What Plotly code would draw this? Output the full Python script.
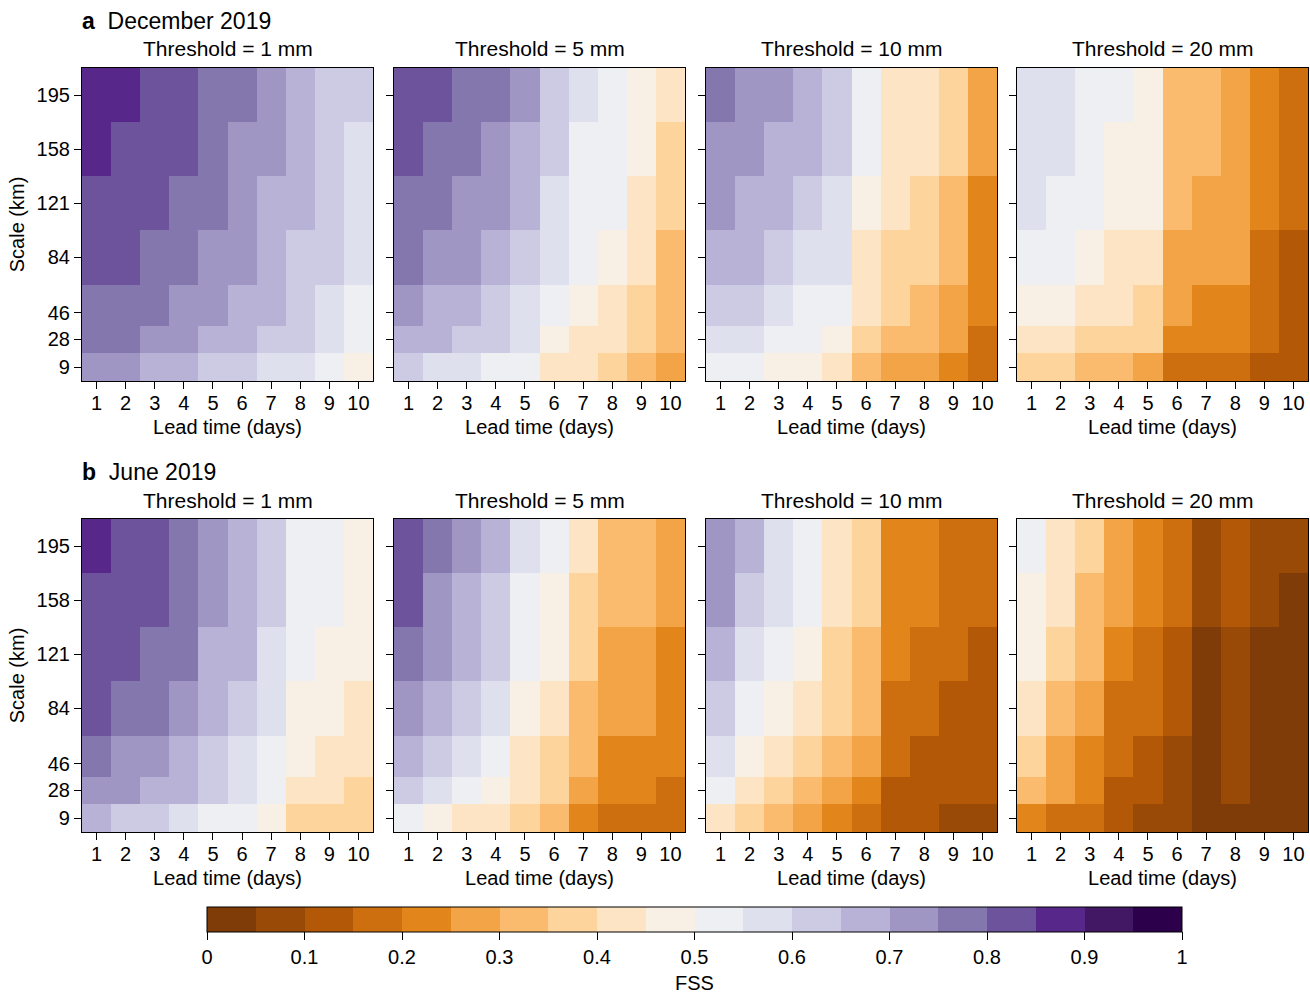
import plotly.graph_objects as go

# ---------------- data ----------------
lead_days = [1, 2, 3, 4, 5, 6, 7, 8, 9, 10]
scales_km = [9, 28, 46, 84, 121, 158, 195]
thresholds = ["1 mm", "5 mm", "10 mm", "20 mm"]

# FSS values, rows listed from largest scale (195 km) down to 9 km
dec_1mm = [
    [0.87, 0.87, 0.83, 0.83, 0.78, 0.78, 0.72, 0.68, 0.62, 0.62],
    [0.87, 0.83, 0.83, 0.83, 0.78, 0.72, 0.72, 0.68, 0.62, 0.58],
    [0.83, 0.83, 0.83, 0.78, 0.78, 0.72, 0.68, 0.68, 0.62, 0.58],
    [0.83, 0.83, 0.78, 0.78, 0.72, 0.72, 0.68, 0.62, 0.62, 0.58],
    [0.78, 0.78, 0.78, 0.72, 0.72, 0.68, 0.68, 0.62, 0.58, 0.52],
    [0.78, 0.78, 0.72, 0.72, 0.68, 0.68, 0.62, 0.62, 0.58, 0.52],
    [0.72, 0.72, 0.68, 0.68, 0.62, 0.62, 0.58, 0.58, 0.52, 0.48],
]
dec_5mm = [
    [0.83, 0.83, 0.78, 0.78, 0.72, 0.62, 0.58, 0.52, 0.48, 0.42],
    [0.83, 0.78, 0.78, 0.72, 0.68, 0.62, 0.52, 0.52, 0.48, 0.38],
    [0.78, 0.78, 0.72, 0.72, 0.68, 0.58, 0.52, 0.52, 0.42, 0.38],
    [0.78, 0.72, 0.72, 0.68, 0.62, 0.58, 0.52, 0.48, 0.42, 0.32],
    [0.72, 0.68, 0.68, 0.62, 0.58, 0.52, 0.48, 0.42, 0.38, 0.32],
    [0.68, 0.68, 0.62, 0.62, 0.58, 0.48, 0.42, 0.42, 0.38, 0.32],
    [0.62, 0.58, 0.58, 0.52, 0.52, 0.42, 0.42, 0.38, 0.32, 0.28],
]
dec_10mm = [
    [0.78, 0.72, 0.72, 0.68, 0.62, 0.52, 0.42, 0.42, 0.38, 0.28],
    [0.72, 0.72, 0.68, 0.68, 0.62, 0.52, 0.42, 0.42, 0.38, 0.28],
    [0.72, 0.68, 0.68, 0.62, 0.58, 0.48, 0.42, 0.38, 0.32, 0.22],
    [0.68, 0.68, 0.62, 0.58, 0.58, 0.42, 0.38, 0.38, 0.32, 0.22],
    [0.62, 0.62, 0.58, 0.52, 0.52, 0.42, 0.38, 0.32, 0.28, 0.22],
    [0.58, 0.58, 0.52, 0.52, 0.48, 0.38, 0.32, 0.32, 0.28, 0.18],
    [0.52, 0.52, 0.48, 0.48, 0.42, 0.32, 0.28, 0.28, 0.22, 0.18],
]
dec_20mm = [
    [0.58, 0.58, 0.52, 0.52, 0.48, 0.32, 0.32, 0.28, 0.22, 0.18],
    [0.58, 0.58, 0.52, 0.48, 0.48, 0.32, 0.32, 0.28, 0.22, 0.18],
    [0.58, 0.52, 0.52, 0.48, 0.48, 0.32, 0.28, 0.28, 0.22, 0.18],
    [0.52, 0.52, 0.48, 0.42, 0.42, 0.28, 0.28, 0.28, 0.18, 0.12],
    [0.48, 0.48, 0.42, 0.42, 0.38, 0.28, 0.22, 0.22, 0.18, 0.12],
    [0.42, 0.42, 0.38, 0.38, 0.38, 0.22, 0.22, 0.22, 0.18, 0.12],
    [0.38, 0.38, 0.32, 0.32, 0.28, 0.18, 0.18, 0.18, 0.12, 0.12],
]
jun_1mm = [
    [0.87, 0.83, 0.83, 0.78, 0.72, 0.68, 0.62, 0.52, 0.52, 0.48],
    [0.83, 0.83, 0.83, 0.78, 0.72, 0.68, 0.62, 0.52, 0.52, 0.48],
    [0.83, 0.83, 0.78, 0.78, 0.68, 0.68, 0.58, 0.52, 0.48, 0.48],
    [0.83, 0.78, 0.78, 0.72, 0.68, 0.62, 0.58, 0.48, 0.48, 0.42],
    [0.78, 0.72, 0.72, 0.68, 0.62, 0.58, 0.52, 0.48, 0.42, 0.42],
    [0.72, 0.72, 0.68, 0.68, 0.62, 0.58, 0.52, 0.42, 0.42, 0.38],
    [0.68, 0.62, 0.62, 0.58, 0.52, 0.52, 0.48, 0.38, 0.38, 0.38],
]
jun_5mm = [
    [0.83, 0.78, 0.72, 0.68, 0.58, 0.52, 0.42, 0.32, 0.32, 0.28],
    [0.83, 0.72, 0.68, 0.62, 0.52, 0.48, 0.38, 0.32, 0.32, 0.28],
    [0.78, 0.72, 0.68, 0.62, 0.52, 0.48, 0.38, 0.28, 0.28, 0.22],
    [0.72, 0.68, 0.62, 0.58, 0.48, 0.42, 0.32, 0.28, 0.28, 0.22],
    [0.68, 0.62, 0.58, 0.52, 0.42, 0.38, 0.32, 0.22, 0.22, 0.22],
    [0.62, 0.58, 0.52, 0.48, 0.42, 0.38, 0.28, 0.22, 0.22, 0.18],
    [0.52, 0.48, 0.42, 0.42, 0.38, 0.32, 0.22, 0.18, 0.18, 0.18],
]
jun_10mm = [
    [0.72, 0.68, 0.58, 0.52, 0.42, 0.38, 0.22, 0.22, 0.18, 0.18],
    [0.72, 0.62, 0.58, 0.52, 0.42, 0.38, 0.22, 0.22, 0.18, 0.18],
    [0.68, 0.58, 0.52, 0.48, 0.38, 0.32, 0.22, 0.18, 0.18, 0.12],
    [0.62, 0.52, 0.48, 0.42, 0.38, 0.32, 0.18, 0.18, 0.12, 0.12],
    [0.58, 0.48, 0.42, 0.38, 0.32, 0.28, 0.18, 0.12, 0.12, 0.12],
    [0.52, 0.42, 0.38, 0.32, 0.28, 0.22, 0.12, 0.12, 0.12, 0.12],
    [0.42, 0.38, 0.32, 0.28, 0.22, 0.18, 0.12, 0.12, 0.08, 0.08],
]
jun_20mm = [
    [0.52, 0.42, 0.38, 0.28, 0.22, 0.18, 0.08, 0.12, 0.08, 0.08],
    [0.48, 0.42, 0.32, 0.28, 0.22, 0.18, 0.08, 0.12, 0.08, 0.02],
    [0.48, 0.38, 0.32, 0.22, 0.18, 0.12, 0.02, 0.08, 0.02, 0.02],
    [0.42, 0.32, 0.28, 0.18, 0.18, 0.12, 0.02, 0.08, 0.02, 0.02],
    [0.38, 0.28, 0.22, 0.18, 0.12, 0.08, 0.02, 0.08, 0.02, 0.02],
    [0.32, 0.28, 0.22, 0.12, 0.12, 0.08, 0.02, 0.08, 0.02, 0.02],
    [0.22, 0.18, 0.18, 0.12, 0.08, 0.08, 0.02, 0.02, 0.02, 0.02],
]

panels = [dec_1mm, dec_5mm, dec_10mm, dec_20mm,
          jun_1mm, jun_5mm, jun_10mm, jun_20mm]
row_titles = ["December 2019", "June 2019"]
row_letters = ["a", "b"]

# 20-step PuOr-like discrete palette (0 -> 1)
bin_colors = [
    "#7f3b08", "#9a4a07", "#b35806", "#cd6f0e", "#e2861b",
    "#f2a447", "#fbbb6e", "#fdd49b", "#fde4c5", "#f8efe5",
    "#eeeff3", "#dfe0ee", "#cdcae3", "#b8b2d6", "#9f96c4",
    "#8477ae", "#6d539c", "#57288a", "#421865", "#2d004b",
]

# ---------------- layout helpers ----------------
W, H = 1310, 996
FONT = "Liberation Sans, Arial, Helvetica, sans-serif"
col_px = [(82, 373), (394, 685), (706, 997), (1017, 1308)]
row_px = [(68, 381), (519, 832)]


def fx(p):
    return p / W


def fy(p):
    return 1 - p / H


n = len(bin_colors)
colorscale = []
for k, c in enumerate(bin_colors):
    colorscale.append([k / n, c])
    colorscale.append([(k + 1) / n, c])

fig = go.Figure()
layout = dict(
    width=W, height=H,
    margin=dict(l=0, r=0, t=0, b=0),
    paper_bgcolor="white", plot_bgcolor="white",
    font=dict(family=FONT, size=20, color="black"),
    showlegend=False,
    coloraxis=dict(
        cmin=0, cmax=1, colorscale=colorscale,
        colorbar=dict(
            orientation="h",
            x=fx((207 + 1182) / 2), xanchor="center",
            y=fy(907), yanchor="top",
            len=975, lenmode="pixels",
            thickness=25, thicknessmode="pixels",
            xpad=0, ypad=0,
            outlinewidth=1, outlinecolor="black",
            ticks="outside", ticklen=8, tickcolor="black", tickwidth=1,
            tick0=0, dtick=0.1,
            tickfont=dict(family=FONT, size=20, color="black"),
        ),
    ),
)

annotations = []
for i, z_rows in enumerate(panels):
    r, c = divmod(i, 4)
    suffix = "" if i == 0 else str(i + 1)
    xa, ya = "x" + suffix, "y" + suffix
    fig.add_trace(go.Heatmap(
        x=lead_days, y=scales_km, z=z_rows[::-1],
        coloraxis="coloraxis", xaxis=xa, yaxis=ya,
        hovertemplate="Lead %{x} d<br>Scale %{y} km<br>FSS %{z}<extra></extra>",
    ))
    x0, x1 = col_px[c]
    y0, y1 = row_px[r]
    layout["xaxis" + suffix] = dict(
        domain=[fx(x0), fx(x1)], anchor=ya,
        range=[0.5, 10.5], tickvals=lead_days,
        ticks="outside", ticklen=7, tickwidth=1, tickcolor="black",
        ticklabelstandoff=-3,
        showline=True, mirror=True, linecolor="black", linewidth=1.2,
        showgrid=False, zeroline=False,
        tickfont=dict(size=20),
        title=dict(text="Lead time (days)", standoff=6,
                   font=dict(size=20)),
    )
    layout["yaxis" + suffix] = dict(
        domain=[fy(y1), fy(y0)], anchor=xa,
        range=[-0.5, 213.5], tickvals=scales_km,
        ticktext=[str(s) for s in scales_km] if c == 0 else [""] * len(scales_km),
        ticks="outside", ticklen=7, tickwidth=1, tickcolor="black",
        showline=True, mirror=True, linecolor="black", linewidth=1.2,
        showgrid=False, zeroline=False,
        tickfont=dict(size=20),
        title=dict(text="Scale (km)" if c == 0 else "", standoff=6,
                   font=dict(size=20)),
    )
    annotations.append(dict(
        text="Threshold = " + thresholds[c],
        x=fx((x0 + x1) / 2), y=fy(y0 - 19),
        xref="paper", yref="paper", xanchor="center", yanchor="middle",
        showarrow=False, font=dict(family=FONT, size=21, color="black"),
    ))

for r in range(2):
    annotations.append(dict(
        text="<b>" + row_letters[r] + "</b>\u00a0\u00a0" + row_titles[r],
        x=fx(80), y=fy(row_px[r][0] - 47),
        xref="paper", yref="paper", xanchor="left", yanchor="middle",
        showarrow=False, font=dict(family=FONT, size=23, color="black"),
    ))

# colour bar title
annotations.append(dict(
    text="FSS", x=fx((207 + 1182) / 2), y=0,
    xref="paper", yref="paper", xanchor="center", yanchor="bottom",
    showarrow=False, font=dict(family=FONT, size=20, color="black"),
))

layout["annotations"] = annotations
fig.update_layout(**layout)
fig.write_html("out.html")
